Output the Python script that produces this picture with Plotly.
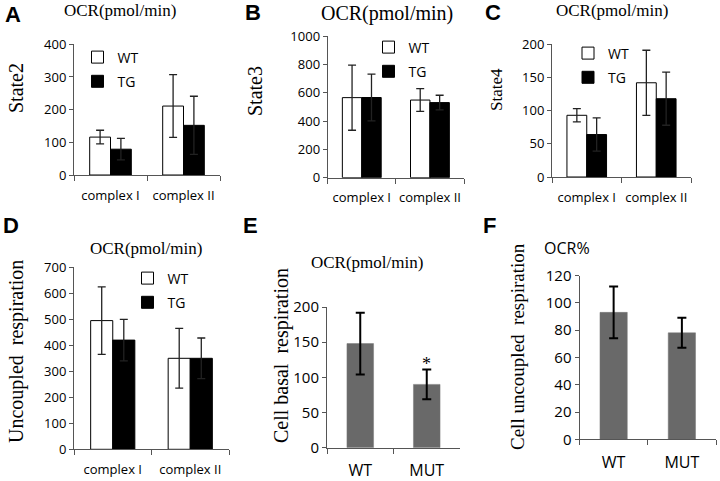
import plotly.graph_objects as go

# ---------------- data ----------------
complex_cats = ["complex I", "complex II"]
cell_cats = ["WT", "MUT"]

state2_wt = [116, 211]
state2_wt_err = [21, 96]
state2_tg = [79, 152]
state2_tg_err = [33, 89]

state3_wt = [565, 548]
state3_wt_err = [230, 80]
state3_tg = [566, 530]
state3_tg_err = [165, 52]

state4_wt = [93, 142]
state4_wt_err = [10, 49]
state4_tg = [64, 118]
state4_tg_err = [25, 40]

uncoupled_wt = [495, 350]
uncoupled_wt_err = [130, 115]
uncoupled_tg = [420, 350]
uncoupled_tg_err = [80, 78]

basal_vals = [148, 90]
basal_err = [44, 21]

cell_uncoupled_vals = [93, 78]
cell_uncoupled_err = [19, 11]

W, H = 720, 481
SANS = "Open Sans"
SERIF = "Liberation Serif"
AXC = "#555555"


def xdom(a, b):
    return [a / W, b / W]


def ydom(top, bottom):
    return [1 - bottom / H, 1 - top / H]


fig = go.Figure()

# panel definitions: (idx, x px, y px, range, dtick, tick font size)
panels = [
    (1, (74, 220), (44.3, 175), [0, 400], 100, 13),
    (2, (327.7, 464), (36, 177.7), [0, 1000], 200, 13),
    (3, (552, 691), (44.3, 177), [0, 200], 50, 13),
    (4, (74, 229), (267.3, 449.3), [0, 700], 100, 13),
    (5, (327, 460), (307, 447.7), [0, 200], 50, 15),
    (6, (579.5, 716), (275.5, 439.3), [0, 120], 20, 15),
]

grouped = [
    (1, state2_wt, state2_wt_err, state2_tg, state2_tg_err, "legend"),
    (2, state3_wt, state3_wt_err, state3_tg, state3_tg_err, "legend2"),
    (3, state4_wt, state4_wt_err, state4_tg, state4_tg_err, "legend3"),
    (4, uncoupled_wt, uncoupled_wt_err, uncoupled_tg, uncoupled_tg_err, "legend4"),
]

BW = 0.285
for i, wt, wte, tg, tge, lg in grouped:
    xa = "x" if i == 1 else f"x{i}"
    ya = "y" if i == 1 else f"y{i}"
    fig.add_trace(go.Bar(
        x=complex_cats, y=wt, name="WT", legend=lg, legendgroup=f"wt{i}",
        offset=-BW, width=BW, xaxis=xa, yaxis=ya,
        marker=dict(color="white", line=dict(color="black", width=1)),
        error_y=dict(type="data", array=wte, color="#222222", thickness=1.3, width=4),
    ))
    fig.add_trace(go.Bar(
        x=complex_cats, y=tg, name="TG", legend=lg, legendgroup=f"tg{i}",
        offset=0, width=BW, xaxis=xa, yaxis=ya,
        marker=dict(color="black", line=dict(color="black", width=1)),
        error_y=dict(type="data", array=tge, color="#222222", thickness=1.3, width=4),
    ))

for i, vals, errs in [(5, basal_vals, basal_err), (6, cell_uncoupled_vals, cell_uncoupled_err)]:
    fig.add_trace(go.Bar(
        x=cell_cats, y=vals, showlegend=False, width=0.4,
        xaxis=f"x{i}", yaxis=f"y{i}",
        marker=dict(color="#696969", line=dict(color="#777777", width=0.5)),
        error_y=dict(type="data", array=errs, color="black", thickness=2, width=4.5),
    ))

layout = dict(
    template="none",
    width=W, height=H,
    margin=dict(l=0, r=0, t=0, b=0, pad=0, autoexpand=False),
    paper_bgcolor="white", plot_bgcolor="white",
    barmode="overlay",
    font=dict(family=SANS, color="black"),
)

for p in panels:
    i, (xa, xb), (yt, yb), rng, dt, fs = p
    xk = "xaxis" if i == 1 else f"xaxis{i}"
    yk = "yaxis" if i == 1 else f"yaxis{i}"
    xr = "x" if i == 1 else f"x{i}"
    yr = "y" if i == 1 else f"y{i}"
    layout[xk] = dict(
        domain=xdom(xa, xb), anchor=yr, type="category",
        showline=True, linecolor=AXC, linewidth=1,
        ticks="outside", tickson="boundaries", ticklen=5, tickcolor=AXC,
        showgrid=False, zeroline=False, fixedrange=True, automargin=False,
        tickangle=0,
        tickfont=dict(family=SANS, size=16 if i >= 5 else 13, color="black"),
        ticklabelstandoff=8,
    )
    layout[yk] = dict(
        domain=ydom(yt, yb), anchor=xr, range=rng, dtick=dt,
        showline=True, linecolor=AXC, linewidth=1,
        ticks="outside", ticklen=4, tickcolor=AXC,
        showgrid=False, zeroline=False, fixedrange=True, automargin=False,
        tickfont=dict(family=SANS, size=fs, color="black"),
    )

# legends (cx = symbol centre, cy = midpoint of the two entries)
leg_pos = {
    "legend": (98.5, 69.5),
    "legend2": (389.5, 59.5),
    "legend3": (589, 65.5),
    "legend4": (148.5, 290.5),
}
for k, (cx, cy) in leg_pos.items():
    layout[k] = dict(
        x=(cx - 21) / W, y=1 - cy / H, xanchor="left", yanchor="middle",
        bgcolor="rgba(0,0,0,0)", borderwidth=0, traceorder="grouped",
        tracegroupgap=3, itemwidth=30,
        font=dict(family=SANS, size=14, color="black"),
    )

fig.update_layout(**layout)

annotations = []


def ann(text, x, y, size, family, bold=False, angle=0, xanchor="center", yanchor="middle"):
    annotations.append(dict(
        text=f"<b>{text}</b>" if bold else text,
        x=x / W, y=1 - y / H, xref="paper", yref="paper",
        xanchor=xanchor, yanchor=yanchor, showarrow=False, textangle=angle,
        font=dict(family=family, size=size, color="black"),
    ))


# panel letters
for letter, x, y in [("A", 13, 14.5), ("B", 253, 12.5), ("C", 492.5, 12.5),
                     ("D", 11, 225), ("E", 250, 225), ("F", 489, 225)]:
    ann(letter, x, y, 22, "Liberation Sans", bold=True)

# titles
ann("OCR(pmol/min)", 119.5, 10, 17, SERIF)
ann("OCR(pmol/min)", 387, 13.5, 20, SERIF)
ann("OCR(pmol/min)", 612, 10, 17, SERIF)
ann("OCR(pmol/min)", 146, 248, 17, SERIF)
ann("OCR(pmol/min)", 367, 262, 17, SERIF)
ann("OCR%", 567, 248, 16, SANS)

# y titles
ann("State2", 16, 88, 20, SERIF, angle=-90)
ann("State3", 255, 91, 20, SERIF, angle=-90)
ann("State4", 496, 90, 17, SERIF, angle=-90)
ann("Uncoupled  respiration", 16, 352, 20, SERIF, angle=-90)
ann("Cell basal  respiration", 281, 356, 20, SERIF, angle=-90)
ann("Cell uncoupled  respiration", 517, 347, 19, SERIF, angle=-90)

# significance marker above MUT in panel E
annotations.append(dict(
    text="*", x="MUT", y=basal_vals[1] + basal_err[1], xref="x5", yref="y5",
    xanchor="center", yanchor="bottom", showarrow=False, yshift=-6,
    font=dict(family=SERIF, size=18, color="black"),
))

fig.update_layout(annotations=annotations)

# remove the default 8px page margin so the 720x481 figure fills the window exactly
fig.write_html(
    "out.html",
    config={"displayModeBar": False},
    post_script="document.body.style.margin='0px';document.body.style.overflow='hidden';",
)
